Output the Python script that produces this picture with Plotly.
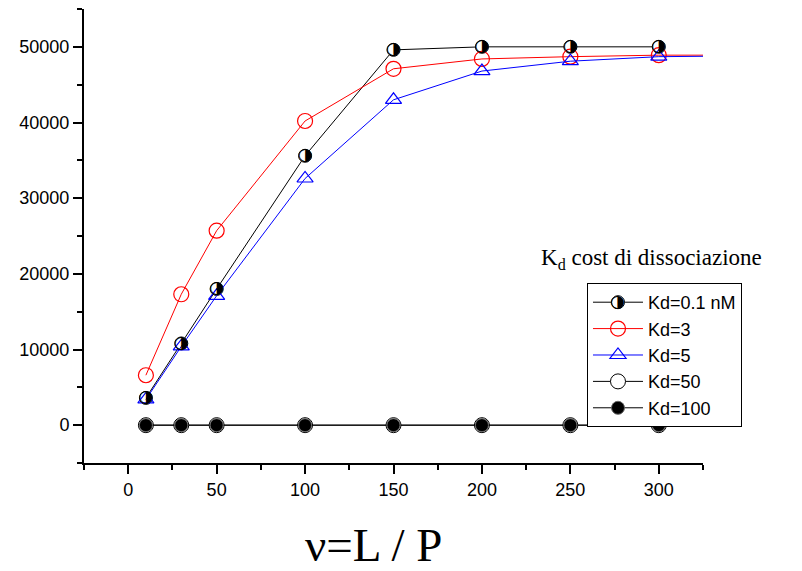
import plotly.graph_objects as go

x = [10, 30, 50, 100, 150, 200, 250, 300]
x_ext = [10, 30, 50, 100, 150, 200, 250, 300, 350]

kd01 = [3600, 10800, 18000, 35600, 49600, 50000, 50000, 50000]
kd3 = [6600, 17300, 25700, 40200, 47100, 48400, 48700, 48900, 48900]
kd5 = [3400, 10400, 17100, 32600, 43000, 46800, 48100, 48700, 48800]
kd50 = [0, 0, 0, 0, 0, 0, 0, 0]
kd100 = [0, 0, 0, 0, 0, 0, 0, 0]

names = ["Kd=0.1 nM", "Kd=3", "Kd=5", "Kd=50", "Kd=100"]
half_glyph = "\u25D1"

fig = go.Figure()

fig.add_trace(go.Scatter(
    x=x, y=kd01, name=names[0], mode="lines+markers",
    line=dict(color="black", width=1),
    marker=dict(symbol="circle", size=13, color="white", line=dict(color="black", width=1)),
))
fig.add_trace(go.Scatter(
    x=x_ext, y=kd3, name=names[1], mode="lines+markers",
    line=dict(color="red", width=1),
    marker=dict(symbol="circle", size=15, color="rgba(255,255,255,0)", line=dict(color="red", width=1.2)),
))
fig.add_trace(go.Scatter(
    x=x_ext, y=kd5, name=names[2], mode="lines+markers",
    line=dict(color="blue", width=1),
    marker=dict(symbol="triangle-up", size=14, color="rgba(255,255,255,0)", line=dict(color="blue", width=1.2)),
))
fig.add_trace(go.Scatter(
    x=x, y=kd50, name=names[3], mode="lines+markers",
    line=dict(color="black", width=1),
    marker=dict(symbol="circle", size=15, color="white", line=dict(color="black", width=1)),
))
fig.add_trace(go.Scatter(
    x=x, y=kd100, name=names[4], mode="lines+markers",
    line=dict(color="black", width=1),
    marker=dict(symbol="circle", size=13, color="black", line=dict(color="#666666", width=1)),
))
# half-filled markers for Kd=0.1 nM drawn on top of the open circles
fig.add_trace(go.Scatter(
    x=x, y=kd01, mode="text", text=[half_glyph] * len(x), showlegend=False,
    textposition="middle center",
    textfont=dict(family="DejaVu Sans", size=17, color="black"),
    hoverinfo="skip",
))

fig.update_layout(
    width=802, height=571,
    margin=dict(l=84, r=99, t=9, b=108),
    paper_bgcolor="white", plot_bgcolor="white",
    showlegend=True,
    legend=dict(
        x=0.8126, y=0.3965, xanchor="left", yanchor="top",
        bordercolor="black", borderwidth=1, bgcolor="white",
        font=dict(family="Liberation Sans", size=18, color="black"),
        tracegroupgap=0, itemwidth=50,
    ),
    font=dict(family="Liberation Sans", color="black"),
)

fig.update_xaxes(
    range=[-25, 325], tick0=0, dtick=50, showgrid=False, zeroline=False,
    showline=True, linecolor="black", linewidth=2,
    ticks="outside", ticklen=9, tickwidth=1.5, tickcolor="black",
    tickfont=dict(family="Liberation Sans", size=18, color="black"),
    minor=dict(dtick=25, tick0=0, ticks="outside", ticklen=5, tickwidth=1.5, tickcolor="black", showgrid=False),
)
fig.update_yaxes(
    range=[-5000, 55000], tick0=0, dtick=10000, tickformat="d", showgrid=False, zeroline=False,
    showline=True, linecolor="black", linewidth=2,
    ticks="outside", ticklen=9, tickwidth=1.5, tickcolor="black",
    tickfont=dict(family="Liberation Sans", size=18, color="black"),
    minor=dict(dtick=5000, tick0=0, ticks="outside", ticklen=5, tickwidth=1.5, tickcolor="black", showgrid=False),
)

fig.add_annotation(
    xref="paper", yref="paper", x=(651 - 84) / 619, y=(463 - 259) / 454,
    xanchor="center", yanchor="middle", showarrow=False,
    text="K<sub>d</sub> cost di dissociazione",
    font=dict(family="Liberation Serif", size=23, color="black"),
)
fig.add_annotation(
    xref="paper", yref="paper", x=(373 - 84) / 619, y=(463 - 545) / 454,
    xanchor="center", yanchor="middle", showarrow=False,
    text="\u03bd=L / P",
    font=dict(family="Liberation Serif", size=47, color="black"),
)
# half-filled symbol in the legend entry of Kd=0.1 nM
fig.add_annotation(
    xref="paper", yref="paper", x=(617 - 84) / 619, y=(463 - 300.5) / 454,
    xanchor="center", yanchor="middle", showarrow=False,
    text=half_glyph,
    font=dict(family="DejaVu Sans", size=17, color="black"),
)

fig.write_html("out.html")
